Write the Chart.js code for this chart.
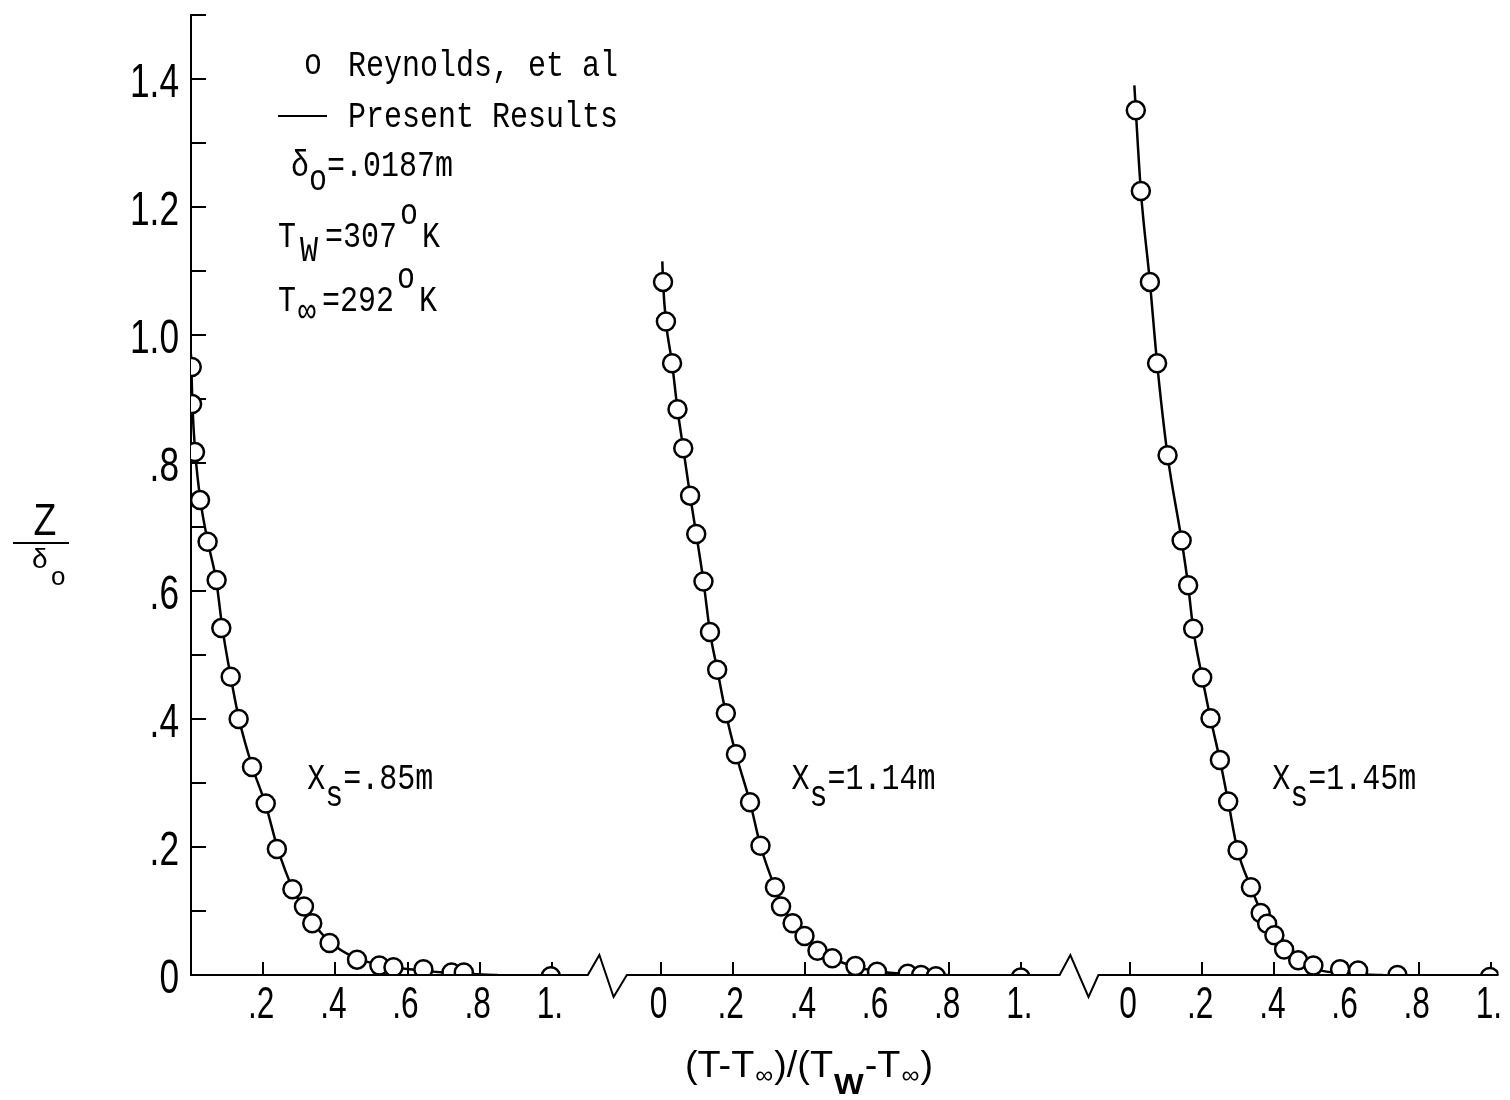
<!DOCTYPE html>
<html>
<head>
<meta charset="utf-8">
<script src="https://cdn.jsdelivr.net/npm/chart.js@4.4.1/dist/chart.umd.min.js"></script>
<style>
  html, body { margin: 0; padding: 0; background: #fff; }
  #wrap { width: 1510px; height: 1100px; }
</style>
</head>
<body>
<div id="wrap"><canvas id="chart" width="1510" height="1100"></canvas></div>
<script>
// panel offsets on the shared x scale (each panel runs 0..1 in (T-Tinf)/(Tw-Tinf))
var panelOffsets = [0, 1.301, 2.602];
var xMax = 3.623;

// x tick labels within a panel
var xTickValues = [0, 0.2, 0.4, 0.6, 0.8, 1.0];
var xTickLabels = ['0', '.2', '.4', '.6', '.8', '1.'];

// Reynolds, et al  (circles)  Xs = .85m
var p1x = [0.002, 0.003, 0.011, 0.025, 0.046, 0.071, 0.084, 0.110, 0.132, 0.169, 0.207, 0.238, 0.281, 0.313, 0.336, 0.384, 0.460, 0.522, 0.561, 0.644, 0.722, 0.756, 0.997];
var p1y = [0.950, 0.892, 0.817, 0.742, 0.677, 0.617, 0.542, 0.466, 0.400, 0.325, 0.268, 0.197, 0.134, 0.107, 0.081, 0.050, 0.024, 0.015, 0.012, 0.009, 0.004, 0.004, -0.002];
// Xs = 1.14m
var p2x = [0.007, 0.015, 0.032, 0.047, 0.063, 0.082, 0.099, 0.119, 0.137, 0.157, 0.181, 0.209, 0.248, 0.277, 0.317, 0.334, 0.366, 0.399, 0.435, 0.476, 0.540, 0.600, 0.685, 0.722, 0.763, 0.998];
var p2y = [1.083, 1.021, 0.956, 0.884, 0.823, 0.749, 0.689, 0.615, 0.536, 0.477, 0.409, 0.345, 0.270, 0.202, 0.137, 0.107, 0.081, 0.061, 0.038, 0.026, 0.014, 0.005, 0.002, 0.000, -0.002, -0.004];
// Xs = 1.45m
var p3x = [0.016, 0.030, 0.055, 0.075, 0.104, 0.143, 0.161, 0.175, 0.200, 0.223, 0.249, 0.272, 0.298, 0.335, 0.362, 0.380, 0.400, 0.427, 0.466, 0.508, 0.582, 0.632, 0.741, 0.997];
var p3y = [1.351, 1.225, 1.083, 0.956, 0.812, 0.679, 0.609, 0.541, 0.465, 0.401, 0.336, 0.271, 0.195, 0.137, 0.097, 0.080, 0.062, 0.040, 0.023, 0.015, 0.009, 0.007, 0.000, -0.003];

// Present Results (solid curves)
var c1x = [0.000, 0.004, 0.012, 0.026, 0.047, 0.070, 0.087, 0.110, 0.133, 0.170, 0.207, 0.240, 0.282, 0.320, 0.360, 0.400, 0.460, 0.530, 0.620, 0.720, 0.850];
var c1y = [0.970, 0.890, 0.815, 0.742, 0.676, 0.616, 0.542, 0.466, 0.400, 0.325, 0.266, 0.198, 0.135, 0.098, 0.066, 0.045, 0.026, 0.015, 0.008, 0.003, 0.000];
var c2x = [0.005, 0.007, 0.015, 0.032, 0.047, 0.063, 0.082, 0.099, 0.119, 0.137, 0.157, 0.181, 0.209, 0.248, 0.277, 0.317, 0.350, 0.400, 0.440, 0.480, 0.540, 0.600, 0.700, 0.800];
var c2y = [1.115, 1.083, 1.021, 0.956, 0.884, 0.823, 0.749, 0.689, 0.615, 0.536, 0.478, 0.409, 0.345, 0.270, 0.202, 0.137, 0.095, 0.060, 0.038, 0.025, 0.013, 0.006, 0.001, 0.000];
var c3x = [0.012, 0.016, 0.030, 0.055, 0.075, 0.104, 0.143, 0.161, 0.175, 0.200, 0.223, 0.249, 0.272, 0.298, 0.335, 0.362, 0.380, 0.400, 0.427, 0.466, 0.520, 0.600, 0.700];
var c3y = [1.390, 1.351, 1.225, 1.083, 0.956, 0.812, 0.679, 0.609, 0.541, 0.465, 0.401, 0.336, 0.271, 0.195, 0.137, 0.100, 0.080, 0.060, 0.038, 0.020, 0.008, 0.002, 0.000];

var stationLabels = ['.85m', '1.14m', '1.45m'];

var SANS = '"Liberation Sans", Arial, sans-serif';
var MONO = '"Liberation Mono", "DejaVu Sans Mono", monospace';

function toPts(xs, ys, off) {
  var out = [];
  for (var i = 0; i < xs.length; i++) out.push({x: xs[i] + off, y: ys[i]});
  return out;
}

function yLabel(v) {
  var n = Math.round(v * 10);
  if (n % 2) return '';
  if (n == 0) return '0';
  if (n >= 10) return (n / 10).toFixed(1);
  return '.' + n;
}

var xTicks = [];
for (var p = 0; p < panelOffsets.length; p++) {
  for (var k = 0; k < xTickValues.length; k++) {
    if (p == 0 && k == 0) continue; // y axis sits at 0 of first panel
    xTicks.push({value: panelOffsets[p] + xTickValues[k], label: xTickLabels[k]});
  }
}

var pointSets = [[p1x, p1y], [p2x, p2y], [p3x, p3y]];
var curveSets = [[c1x, c1y], [c2x, c2y], [c3x, c3y]];
var datasets = [];
pointSets.forEach(function(s, i) {
  datasets.push({
    label: 'Reynolds, et al',
    data: toPts(s[0], s[1], panelOffsets[i]),
    showLine: false,
    pointRadius: 9,
    pointBorderWidth: 2.5,
    pointBorderColor: '#000',
    pointBackgroundColor: '#fff',
    order: 0
  });
});
curveSets.forEach(function(s, i) {
  datasets.push({
    label: 'Present Results',
    data: toPts(s[0], s[1], panelOffsets[i]),
    showLine: true,
    pointRadius: 0,
    borderColor: '#000',
    borderWidth: 2.5,
    cubicInterpolationMode: 'monotone',
    order: 1
  });
});

function runs(ctx, x, y, list) {
  list.forEach(function(r) {
    ctx.font = r.f;
    x += (r.pre || 0);
    ctx.fillText(r.t, x, y + (r.dy || 0));
    x += ctx.measureText(r.t).width;
  });
}
function runsWidth(ctx, list) {
  var w = 0;
  list.forEach(function(r) { ctx.font = r.f; w += ctx.measureText(r.t).width + (r.pre || 0); });
  return w;
}

var decorations = {
  id: 'decorations',
  afterDraw: function(chart) {
    var ctx = chart.ctx;
    var xs = chart.scales.x, ys = chart.scales.y;
    var y0 = ys.getPixelForValue(0);
    ctx.save();
    ctx.strokeStyle = '#000';
    ctx.fillStyle = '#000';
    ctx.lineWidth = 2;
    ctx.lineJoin = 'miter';

    // broken x axis
    var breaks = [[1.0996, 1.1315, 1.171, 1.2077], [2.407, 2.4366, 2.487, 2.5144]];
    var bdy = [0, -20, 22, 0];
    ctx.beginPath();
    ctx.moveTo(xs.getPixelForValue(0), y0);
    breaks.forEach(function(b) {
      for (var i = 0; i < b.length; i++) ctx.lineTo(xs.getPixelForValue(b[i]), y0 + bdy[i]);
    });
    ctx.lineTo(xs.getPixelForValue(xMax), y0);
    ctx.stroke();

    // tick labels, narrow lettering
    ctx.textBaseline = 'alphabetic';
    ys.ticks.forEach(function(t) {
      var s = yLabel(t.value);
      if (!s) return;
      ctx.save();
      ctx.translate(179, ys.getPixelForValue(t.value) + 18);
      ctx.scale(0.72, 1);
      ctx.font = '49px ' + SANS;
      ctx.textAlign = 'right';
      ctx.fillText(s, 0, 0);
      ctx.restore();
    });
    xTicks.forEach(function(t) {
      ctx.save();
      ctx.translate(xs.getPixelForValue(t.value) - 2, 1018);
      ctx.scale(0.72, 1);
      ctx.font = '44px ' + SANS;
      ctx.textAlign = 'center';
      ctx.fillText(t.label, 0, 0);
      ctx.restore();
    });

    ctx.textAlign = 'left';

    // legend block (typewriter text)
    var mono = '30px ' + MONO;
    function mtext(x, y, list) {
      ctx.save();
      ctx.translate(x, y);
      ctx.scale(1, 1.2);
      runs(ctx, 0, 0, list);
      ctx.restore();
    }
    mtext(304, 74, [{t: 'o', f: mono}]);
    mtext(348, 76, [{t: 'Reynolds, et al', f: mono}]);
    ctx.beginPath();
    ctx.moveTo(278, 116);
    ctx.lineTo(327, 116);
    ctx.stroke();
    mtext(348, 127, [{t: 'Present Results', f: mono}]);
    mtext(291, 176, [{t: '\u03b4', f: mono}, {t: 'o', f: mono, dy: 12}, {t: '=.0187m', f: mono}]);
    mtext(278, 247, [{t: 'T', f: mono}, {t: 'W', f: mono, dy: 12, pre: 4}, {t: '=307', f: mono, pre: 7},
      {t: 'o', f: mono, dy: -19, pre: 3}, {t: 'K', f: mono, pre: 4}]);
    mtext(278, 311, [{t: 'T', f: mono}, {t: '\u221e', f: mono, dy: 9, pre: 2}, {t: '=292', f: mono, pre: 6},
      {t: 'o', f: mono, dy: -19, pre: 3}, {t: 'K', f: mono, pre: 4}]);

    // station labels, anchored in data units
    var ann = [0.322, 0.363, 0.394];
    ann.forEach(function(ax, i) {
      var px = xs.getPixelForValue(panelOffsets[i] + ax);
      var py = ys.getPixelForValue(0.29);
      mtext(px, py, [{t: 'X', f: mono}, {t: 's', f: mono, dy: 14}, {t: '=' + stationLabels[i], f: mono}]);
    });

    // y axis title  Z / delta_o
    ctx.save();
    ctx.translate(45, 535);
    ctx.scale(0.85, 1);
    ctx.font = '44px ' + SANS;
    ctx.textAlign = 'center';
    ctx.fillText('Z', 0, 0);
    ctx.restore();
    ctx.beginPath();
    ctx.moveTo(13, 543);
    ctx.lineTo(69, 543);
    ctx.stroke();
    ctx.font = '28px ' + SANS;
    ctx.fillText('\u03b4', 32, 568);
    ctx.font = '26px ' + SANS;
    ctx.fillText('o', 51, 585);

    // x axis title, squeezed to the width it has in the figure
    var tf = '36px ' + SANS;
    var sf = '24px ' + SANS;
    var title = [
      {t: '(T-T', f: tf}, {t: '\u221e', f: sf, dy: 6, pre: 1}, {t: ')/(T', f: tf, pre: 1},
      {t: 'W', f: 'bold 30px ' + SANS, dy: 17, pre: 1}, {t: '-T', f: tf, pre: 1}, {t: '\u221e', f: sf, dy: 6, pre: 1}, {t: ')', f: tf, pre: 1}
    ];
    var w = runsWidth(ctx, title);
    ctx.save();
    ctx.translate(685, 1077);
    ctx.scale(248 / w, 1);
    runs(ctx, 0, 0, title);
    ctx.restore();
    ctx.restore();
  }
};

new Chart(document.getElementById('chart'), {
  type: 'scatter',
  data: {datasets: datasets},
  options: {
    responsive: false,
    animation: false,
    devicePixelRatio: 1,
    layout: {padding: {left: 0, right: 2, top: 15, bottom: 0}},
    plugins: {legend: {display: false}, tooltip: {enabled: false}},
    scales: {
      x: {
        type: 'linear',
        min: 0,
        max: xMax,
        border: {display: false},
        grid: {drawOnChartArea: false, drawTicks: true, tickLength: -13, color: '#000', lineWidth: 2},
        ticks: {display: false},
        afterBuildTicks: function(s) {
          s.ticks = xTicks.map(function(t) { return {value: t.value}; });
        },
        afterFit: function(s) { s.height = 125; s.paddingLeft = 0; s.paddingRight = 0; }
      },
      y: {
        min: 0,
        max: 1.5,
        border: {display: true, color: '#000', width: 2},
        grid: {drawOnChartArea: false, drawTicks: true, tickLength: -15, color: '#000', lineWidth: 2},
        ticks: {stepSize: 0.1, autoSkip: false, display: false},
        afterFit: function(s) { s.width = 191; s.paddingTop = 0; s.paddingBottom = 0; }
      }
    }
  },
  plugins: [decorations]
});
</script>
</body>
</html>
